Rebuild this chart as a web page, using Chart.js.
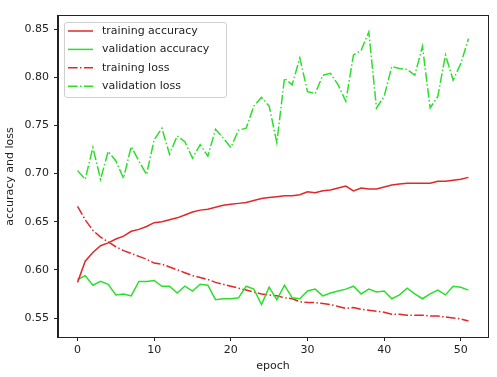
<!DOCTYPE html>
<html>
<head>
<meta charset="utf-8">
<script src="https://cdn.jsdelivr.net/npm/chart.js@4.4.0/dist/chart.umd.min.js"></script>
<style>
  html, body { margin: 0; padding: 0; background: #fff; }
  #wrap { width: 497px; height: 377px; }
</style>
</head>
<body>
<div id="wrap"><canvas id="historyChart" width="497" height="377"></canvas></div>
<script>
// values
const epochs = [0, 1, 2, 3, 4, 5, 6, 7, 8, 9, 10, 11, 12, 13, 14, 15, 16, 17, 18, 19, 20,
  21, 22, 23, 24, 25, 26, 27, 28, 29, 30, 31, 32, 33, 34, 35, 36, 37, 38, 39, 40,
  41, 42, 43, 44, 45, 46, 47, 48, 49, 50, 51];

const trainAcc = [0.587, 0.609, 0.618, 0.625, 0.628, 0.632, 0.635, 0.640, 0.642, 0.645,
  0.649, 0.650, 0.652, 0.654, 0.657, 0.660, 0.662, 0.663, 0.665, 0.667,
  0.668, 0.669, 0.670, 0.672, 0.674, 0.675, 0.676, 0.677, 0.677, 0.678,
  0.681, 0.680, 0.682, 0.683, 0.685, 0.687, 0.682, 0.685, 0.684, 0.684,
  0.686, 0.688, 0.689, 0.690, 0.690, 0.690, 0.690, 0.692, 0.692, 0.693,
  0.694, 0.696];

const valAcc = [0.590, 0.594, 0.584, 0.588, 0.585, 0.574, 0.575, 0.573, 0.588, 0.588,
  0.589, 0.583, 0.583, 0.576, 0.583, 0.578, 0.585, 0.584, 0.569, 0.570,
  0.570, 0.571, 0.583, 0.580, 0.564, 0.582, 0.569, 0.584, 0.571, 0.570,
  0.578, 0.580, 0.573, 0.576, 0.578, 0.580, 0.583, 0.575, 0.580, 0.577,
  0.578, 0.570, 0.574, 0.581, 0.575, 0.570, 0.575, 0.579, 0.574, 0.583,
  0.582, 0.579];

const trainLoss = [0.666, 0.652, 0.641, 0.634, 0.629, 0.624, 0.620, 0.617, 0.614, 0.611,
  0.607, 0.606, 0.603, 0.600, 0.597, 0.594, 0.592, 0.590, 0.587, 0.585,
  0.583, 0.581, 0.579, 0.577, 0.575, 0.574, 0.573, 0.571, 0.570, 0.567,
  0.566, 0.566, 0.565, 0.564, 0.562, 0.560, 0.561, 0.559, 0.558, 0.557,
  0.556, 0.554, 0.554, 0.553, 0.553, 0.553, 0.552, 0.552, 0.551, 0.550,
  0.549, 0.547];

const valLoss = [0.703, 0.694, 0.727, 0.694, 0.723, 0.713, 0.695, 0.728, 0.713, 0.699,
  0.735, 0.747, 0.720, 0.739, 0.733, 0.716, 0.730, 0.718, 0.746, 0.737,
  0.727, 0.745, 0.747, 0.770, 0.779, 0.770, 0.732, 0.799, 0.792, 0.820,
  0.785, 0.783, 0.802, 0.804, 0.792, 0.775, 0.823, 0.828, 0.847, 0.768,
  0.780, 0.811, 0.809, 0.808, 0.802, 0.832, 0.768, 0.780, 0.823, 0.797,
  0.814, 0.840];

const xTicks = [0, 10, 20, 30, 40, 50];
const yTicks = [0.55, 0.60, 0.65, 0.70, 0.75, 0.80, 0.85];

const RED = 'rgb(225, 40, 40)';
const GREEN = 'rgb(45, 222, 45)';
const DASHDOT = [9.6, 2.4, 1.5, 2.4];
const FONT = 'DejaVu Sans';

function pts(arr) {
  return epochs.map((e, i) => ({ x: e, y: arr[i] }));
}

// matplotlib style box around the plot
const framePlugin = {
  id: 'frame',
  afterDatasetsDraw(chart) {
    const { ctx, chartArea: a } = chart;
    ctx.save();
    ctx.strokeStyle = '#222';
    ctx.lineWidth = 1;
    ctx.strokeRect(Math.round(a.left) - 0.5, Math.round(a.top) - 0.5,
      Math.round(a.right - a.left) + 1, Math.round(a.bottom - a.top) + 1);
    ctx.restore();
  }
};

// legend in the upper left corner, like plt.legend()
const boxLegend = {
  id: 'boxLegend',
  afterDraw(chart) {
    const { ctx, chartArea: a } = chart;
    const x0 = a.left + 6, y0 = a.top + 6;
    const w = 162, h = 75, row = 18.4;
    ctx.save();
    ctx.fillStyle = 'rgba(255,255,255,0.85)';
    ctx.strokeStyle = '#d0d0d0';
    ctx.lineWidth = 1;
    ctx.beginPath();
    ctx.roundRect(x0 + 0.5, y0 + 0.5, w, h, 2.5);
    ctx.fill();
    ctx.stroke();
    ctx.font = '11px ' + FONT;
    ctx.textBaseline = 'middle';
    chart.data.datasets.forEach((ds, i) => {
      const y = y0 + 9 + i * row;
      ctx.strokeStyle = ds.borderColor;
      ctx.lineWidth = ds.borderWidth;
      ctx.setLineDash(ds.borderDash || []);
      ctx.beginPath();
      ctx.moveTo(x0 + 4, y);
      ctx.lineTo(x0 + 29, y);
      ctx.stroke();
      ctx.setLineDash([]);
      ctx.fillStyle = '#222';
      ctx.fillText(ds.label, x0 + 38, y);
    });
    ctx.restore();
  }
};

const ctx = document.getElementById('historyChart');
const historyChart = new Chart(ctx, {
  type: 'line',
  data: {
    datasets: [{
      label: 'training accuracy',
      data: pts(trainAcc),
      borderColor: RED,
      borderWidth: 1.5
    }, {
      label: 'validation accuracy',
      data: pts(valAcc),
      borderColor: GREEN,
      borderWidth: 1.5
    }, {
      label: 'training loss',
      data: pts(trainLoss),
      borderColor: RED,
      borderWidth: 1.5,
      borderDash: DASHDOT
    }, {
      label: 'validation loss',
      data: pts(valLoss),
      borderColor: GREEN,
      borderWidth: 1.5,
      borderDash: DASHDOT
    }]
  },
  options: {
    responsive: false,
    animation: false,
    devicePixelRatio: 1,
    elements: {
      point: { radius: 0 },
      line: { tension: 0, fill: false }
    },
    layout: { padding: { top: 16, right: 9, left: 0, bottom: 0 } },
    plugins: {
      legend: { display: false },
      tooltip: { enabled: false }
    },
    scales: {
      x: {
        type: 'linear',
        min: -2.55,
        max: 53.55,
        afterBuildTicks(scale) { scale.ticks = xTicks.map(v => ({ value: v })); },
        afterFit(scale) { scale.height = 40; },
        grid: { drawOnChartArea: false, drawTicks: true, tickLength: 4, color: '#222' },
        border: { display: true, color: '#222' },
        ticks: { color: '#222', font: { family: FONT, size: 11 }, padding: 3, maxRotation: 0 },
        title: { display: true, text: 'epoch', color: '#222', font: { family: FONT, size: 11 }, padding: { top: 0, bottom: 4 } }
      },
      y: {
        min: 0.5303,
        max: 0.8635,
        afterBuildTicks(scale) { scale.ticks = yTicks.map(v => ({ value: v })); },
        afterFit(scale) { scale.width = 58; },
        grid: { drawOnChartArea: false, drawTicks: true, tickLength: 4, color: '#222' },
        border: { display: true, color: '#222' },
        ticks: {
          color: '#222',
          font: { family: FONT, size: 11 },
          padding: 5,
          callback: v => v.toFixed(2)
        },
        title: { display: true, text: 'accuracy and loss', color: '#222', font: { family: FONT, size: 11 }, padding: { top: 4, bottom: 0 } }
      }
    }
  },
  plugins: [framePlugin, boxLegend]
});
</script>
</body>
</html>
